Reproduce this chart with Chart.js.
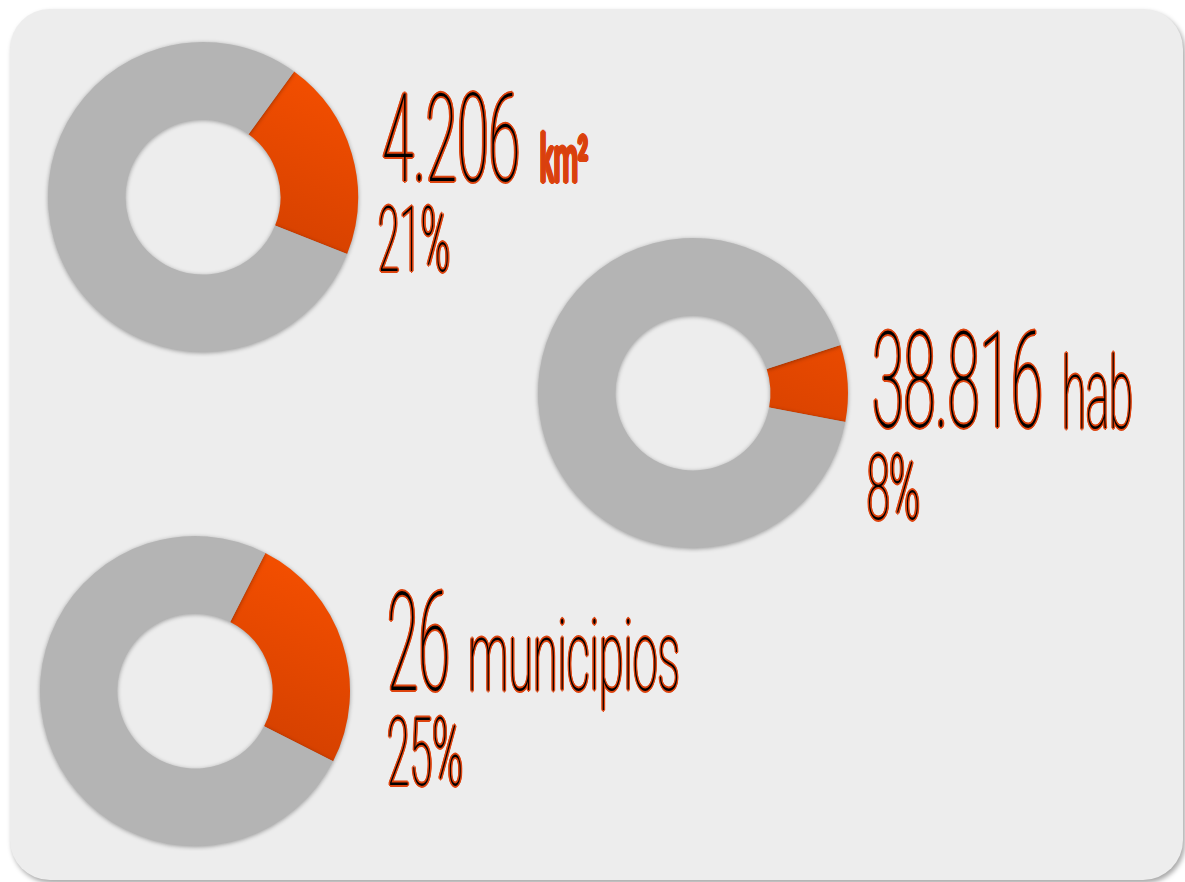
<!DOCTYPE html>
<html>
<head>
<meta charset="utf-8">
<script src="https://cdn.jsdelivr.net/npm/chart.js@4.4.1/dist/chart.umd.min.js"></script>
<style>
    html, body { margin: 0; padding: 0; background: #ffffff; width: 1185px; height: 882px; overflow: hidden; }
    #panel {
        position: absolute; left: 10px; top: 9px; width: 1173px; height: 871px;
        background: #ededed; border-radius: 40px;
        box-shadow: 2px 3px 5px rgba(0, 0, 0, 0.35);
    }
    .donut { position: absolute; width: 320px; height: 320px; }
    .txt {
        position: absolute; white-space: nowrap; line-height: 1;
        font-family: Roboto, sans-serif; font-weight: 100; color: #000;
        transform-origin: 0 0;
        text-shadow: 3.5px 0 #dd440f, -3.5px 0 #dd440f, 0 1.8px #dd440f, 0 -1.8px #dd440f,
                     2.5px 1.3px #dd440f, -2.5px 1.3px #dd440f, 2.5px -1.3px #dd440f, -2.5px -1.3px #dd440f;
    }
    .unit {
        text-shadow: 2.8px 0 #dd440f, -2.8px 0 #dd440f, 0 1.6px #dd440f, 0 -1.6px #dd440f,
                     2px 1.1px #dd440f, -2px 1.1px #dd440f, 2px -1.1px #dd440f, -2px -1.1px #dd440f;
    }
    .small { color: #d9400e; font-weight: 400; }
</style>
</head>
<body>
<div id="panel"></div>
<canvas id="donut0" class="donut"></canvas>
<canvas id="donut1" class="donut"></canvas>
<canvas id="donut2" class="donut"></canvas>
<script>
// Data
const categories = ['Superficie', 'Población', 'Municipios'];
const totals = ['4.206', '38.816', '26'];
const units = ['km²', 'hab', 'municipios'];
const shares = [21, 8, 25];

// Layout (centres of the donuts, start angle of the orange slice)
const centers = [[203, 197], [693, 393], [195, 691]];
const rotations = [36, 72, 27];

const shadowPlugin = {
    id: 'ringShadow',
    beforeDatasetsDraw(chart) {
        const ctx = chart.ctx;
        ctx.save();
        ctx.shadowColor = 'rgba(0, 0, 0, 0.35)';
        ctx.shadowBlur = 4;
        ctx.shadowOffsetY = 1;
    },
    afterDatasetsDraw(chart) {
        chart.ctx.restore();
    }
};

function sliceFill(context) {
    if (context.dataIndex !== 0) return '#b4b4b4';
    const chart = context.chart;
    const area = chart.chartArea;
    if (!area) return '#e84800';
    const g = chart.ctx.createLinearGradient(area.right, area.top, area.left + area.width * 0.6, area.bottom);
    g.addColorStop(0, '#fb5200');
    g.addColorStop(1, '#c23800');
    return g;
}

categories.forEach(function (cat, i) {
    const canvas = document.getElementById('donut' + i);
    canvas.style.left = (centers[i][0] - 160) + 'px';
    canvas.style.top = (centers[i][1] - 160) + 'px';
    try {
        new Chart(canvas.getContext('2d'), {
            type: 'doughnut',
            data: {
                labels: [cat, 'Resto'],
                datasets: [{
                    data: [shares[i], 100 - shares[i]],
                    backgroundColor: sliceFill,
                    borderWidth: 0
                }]
            },
            options: {
                responsive: false,
                animation: false,
                cutout: '50%',
                rotation: rotations[i],
                layout: { padding: 5 },
                plugins: { legend: { display: false }, tooltip: { enabled: false } }
            },
            plugins: [shadowPlugin]
        });
    } catch (e) {
        console.error('Error initializing donut ' + i, e);
    }
});

// Text blocks: [text, className, left, baseline, fontSize, targetWidth]
const textItems = [
    [totals[0], '', 382, 182, 122, 138],
    [units[0], 'small', 540, 183, 66, 48],
    [shares[0] + '%', '', 378, 272, 90, 72],
    [totals[1], '', 872, 428, 134, 171],
    [units[1], 'unit', 1062, 428, 100, 71],
    [shares[1] + '%', '', 867, 520, 91, 53],
    [totals[2], '', 387, 690, 138, 63],
    [units[2], 'unit', 468, 690, 98, 212],
    [shares[2] + '%', '', 387, 785, 94, 76]
];

const nodes = textItems.map(function (t) {
    const d = document.createElement('div');
    d.className = 'txt ' + t[1];
    d.textContent = t[0];
    d.style.fontSize = t[4] + 'px';
    d.style.left = t[2] + 'px';
    d.style.top = (t[3] - 0.8415 * t[4]) + 'px';
    document.body.appendChild(d);
    return d;
});

function fitText() {
    nodes.forEach(function (d, i) {
        d.style.transform = 'none';
        const w = d.getBoundingClientRect().width;
        d.style.transform = 'scaleX(' + (textItems[i][5] / w).toFixed(3) + ')';
    });
}
fitText();
if (document.fonts && document.fonts.ready) document.fonts.ready.then(fitText);
</script>
</body>
</html>
